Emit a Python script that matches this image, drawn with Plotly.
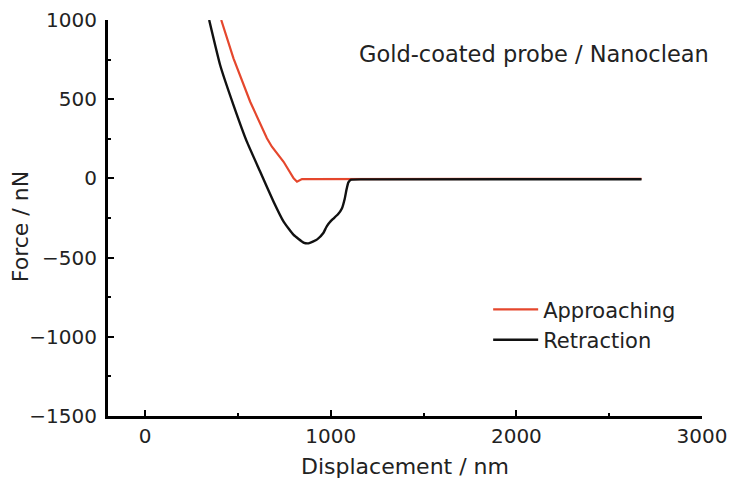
import plotly.graph_objects as go

# Force–displacement curves (displacement in nm, force in nN)
approach_x = [410, 476, 566, 656, 683, 746, 800, 818, 845, 1200, 2674]
approach_y = [1000, 758, 484, 253, 200, 105, 0, -21, -4, -3, -3]

retract_x = [345, 404, 476, 548, 620, 692, 746, 800, 853, 880, 927, 960, 975,
             987, 1000, 1013, 1040, 1060, 1075, 1085, 1095, 1110, 1200, 2674]
retract_y = [1000, 716, 463, 232, 42, -147, -273, -357, -405, -410, -385, -345, -310,
             -288, -270, -255, -225, -190, -130, -70, -25, -8, -6, -5]

x_ticks = [0, 1000, 2000, 3000]
y_ticks = [-1500, -1000, -500, 0, 500, 1000]

FONT = "DejaVu Sans"
TXT = "#222222"

fig = go.Figure()
fig.add_trace(go.Scatter(x=approach_x, y=approach_y, mode="lines", name="Approaching",
                         line=dict(color="#e5472d", width=2.2)))
fig.add_trace(go.Scatter(x=retract_x, y=retract_y, mode="lines", name="Retraction",
                         line=dict(color="#111111", width=2.4, shape="spline", smoothing=0.4)))

axis_common = dict(showgrid=False, zeroline=False, showline=True, linecolor="black",
                   linewidth=3, ticks="inside", tickcolor="black", tickwidth=2, ticklen=6,
                   tickfont=dict(family=FONT, size=20, color=TXT), automargin=False)

fig.update_xaxes(range=[-200, 3000], tickvals=x_ticks,
                 minor=dict(ticks="inside", dtick=500, tick0=0, ticklen=3, tickwidth=1.5,
                            tickcolor="black"),
                 title=dict(text="Displacement / nm", font=dict(family=FONT, size=22, color=TXT),
                            standoff=12),
                 **axis_common)
fig.update_yaxes(range=[-1500, 1000], tickvals=y_ticks, ticklabelstandoff=4,
                 minor=dict(ticks="inside", dtick=250, tick0=0, ticklen=3, tickwidth=1.5,
                            tickcolor="black"),
                 **axis_common)

# y-axis title placed as a rotated label left of the tick labels
fig.add_annotation(text="Force / nN", xref="paper", yref="paper",
                   x=-0.148, y=0.477, xanchor="center", yanchor="middle", textangle=-90,
                   showarrow=False, font=dict(family=FONT, size=22, color=TXT))

fig.add_annotation(text="Gold-coated probe / Nanoclean", xref="paper", yref="paper",
                   x=0.419, y=0.915, xanchor="left", yanchor="middle", showarrow=False,
                   font=dict(family=FONT, size=22.5, color=TXT))

fig.update_layout(
    width=729, height=485,
    margin=dict(l=108, r=27, t=20, b=69),
    paper_bgcolor="white", plot_bgcolor="white",
    showlegend=True,
    legend=dict(x=0.64, y=0.32, xanchor="left", yanchor="top", bgcolor="rgba(0,0,0,0)",
                font=dict(family=FONT, size=21, color=TXT), tracegroupgap=0,
                itemwidth=45),
)

fig.write_html("out.html")
